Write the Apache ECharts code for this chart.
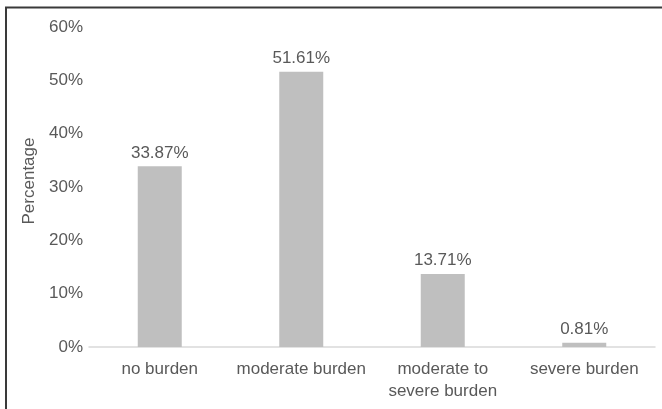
<!DOCTYPE html>
<html>
<head>
<meta charset="utf-8">
<title>Burden levels</title>
<script src="https://cdn.jsdelivr.net/npm/echarts@6/dist/echarts.min.js"></script>
<style>
  html, body { margin: 0; padding: 0; background: #ffffff; }
  #chart { width: 662px; height: 409px; }
</style>
</head>
<body>
<div id="chart"></div>
<script>
// Share of respondents at each burden level
const categories = ['no burden', 'moderate burden', 'moderate to\nsevere burden', 'severe burden'];
const percentages = [33.87, 51.61, 13.71, 0.81];
const yTicks = { min: 0, max: 60, step: 10 };
const yAxisTitle = 'Percentage';

const FONT = '"Liberation Sans", Arial, sans-serif';
const TEXT = '#595959';

const chart = echarts.init(document.getElementById('chart'), null, { renderer: 'canvas' });

chart.setOption({
  animation: false,
  backgroundColor: '#ffffff',
  textStyle: { fontFamily: FONT },
  graphic: [{
    type: 'polyline',
    shape: { points: [[6, 409], [6, 7.5], [662, 7.5]] },
    style: { stroke: '#3a3a3a', lineWidth: 2, fill: null },
    silent: true
  }],
  grid: { left: 89, right: 7, top: 27, bottom: 62, containLabel: false },
  xAxis: {
    type: 'category',
    data: categories,
    axisLine: { show: true, lineStyle: { color: '#d9d9d9', width: 1.5 } },
    axisTick: { show: false },
    axisLabel: {
      color: TEXT, fontFamily: FONT, fontSize: 17, lineHeight: 22, margin: 11, interval: 0
    }
  },
  yAxis: {
    type: 'value',
    min: yTicks.min,
    max: yTicks.max,
    interval: yTicks.step,
    name: yAxisTitle,
    nameLocation: 'middle',
    nameGap: 45,
    nameTextStyle: { color: TEXT, fontFamily: FONT, fontSize: 17, padding: [0, 0, 0, 12] },
    axisLine: { show: false },
    axisTick: { show: false },
    splitLine: { show: false },
    axisLabel: {
      color: TEXT, fontFamily: FONT, fontSize: 17, margin: 6,
      formatter: '{value}%'
    }
  },
  series: [{
    type: 'bar',
    data: percentages,
    barWidth: 44,
    itemStyle: { color: '#bfbfbf' },
    label: {
      show: true,
      position: 'top',
      distance: 5,
      color: TEXT,
      fontFamily: FONT,
      fontSize: 17,
      formatter: p => p.value.toFixed(2) + '%'
    }
  }]
});
</script>
</body>
</html>
